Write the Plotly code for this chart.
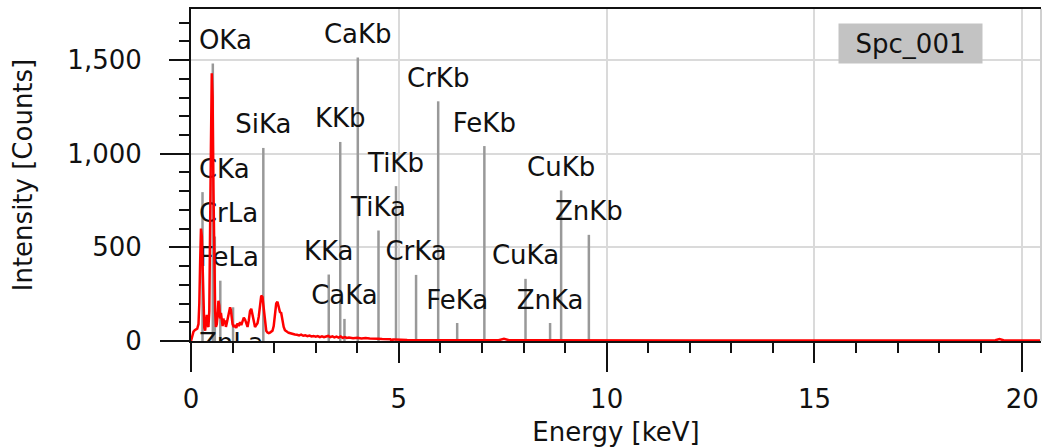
import plotly.graph_objects as go

# ---------------- data ----------------
# spectrum (energy keV, counts)
spec_energy = [0.00, 0.03, 0.06, 0.09, 0.12, 0.15, 0.18, 0.20, 0.22, 0.24, 0.26, 0.28, 0.30, 0.32,
               0.34, 0.36, 0.38, 0.40, 0.42, 0.44, 0.46, 0.48, 0.50, 0.52, 0.54, 0.56, 0.58, 0.60,
               0.62, 0.64, 0.66, 0.68, 0.70, 0.72, 0.74, 0.76, 0.78, 0.80, 0.82, 0.84, 0.86, 0.88,
               0.90, 0.92, 0.94, 0.96, 0.98, 1.00, 1.03, 1.06, 1.09, 1.12, 1.15, 1.18, 1.21, 1.24,
               1.27, 1.30, 1.33, 1.36, 1.39, 1.42, 1.45, 1.48, 1.51, 1.54, 1.57, 1.60, 1.63, 1.66,
               1.69, 1.72, 1.75, 1.78, 1.81, 1.84, 1.87, 1.90, 1.93, 1.96, 1.99, 2.02, 2.05, 2.08,
               2.11, 2.14, 2.17, 2.20, 2.23, 2.26, 2.29, 2.32, 2.35, 2.40, 2.45, 2.50, 2.55, 2.60,
               2.65, 2.70, 2.75, 2.80, 2.85, 2.90, 2.95, 3.00, 3.05, 3.10, 3.15, 3.20, 3.25, 3.30,
               3.35, 3.40, 3.45, 3.50, 3.55, 3.60, 3.65, 3.70, 3.75, 3.80, 3.90, 4.00,
               4.10, 4.20, 4.30, 4.40, 4.50, 4.60, 4.70, 4.80, 4.83, 4.86, 4.90, 5.00, 5.20, 5.60,
               6.00, 6.50, 7.00, 7.40, 7.53, 7.65, 8.00, 9.00, 10.00, 11.00, 12.00, 13.00, 14.00,
               15.00, 16.00, 17.00, 18.00, 19.00, 19.35, 19.45, 19.55, 20.00, 20.45]
spec_counts = [0, 25, 50, 58, 62, 66, 90, 200, 420, 600, 560, 330, 150, 70,
               55, 95, 140, 85, 75, 160, 480, 1050, 1430, 1300, 820, 380, 160, 75,
               90, 140, 215, 190, 120, 150, 100, 80, 120, 90, 110, 75, 95, 120,
               150, 175, 180, 165, 120, 90, 75, 85, 70, 95, 80, 100, 85, 110,
               125, 115, 90, 75, 110, 160, 172, 140, 90, 75, 85, 95, 130, 190,
               242, 235, 170, 90, 55, 45, 42, 45, 48, 55, 80, 150, 200, 210,
               175, 155, 150, 110, 75, 58, 50, 48, 44, 40, 38, 35, 33, 30,
               34, 28, 31, 26, 29, 24, 27, 23, 26, 21, 25, 20, 24, 27,
               21, 25, 19, 23, 18, 24, 17, 21, 16, 18, 15, 17,
               14, 16, 13, 14, 12, 11, 12, 10, -3, 8, 8, 6, 5, 4,
               4, 4, 4, 4, 12, 4, 4, 3, 3, 3, 3, 3, 3,
               3, 3, 3, 3, 3, 4, 10, 4, 3, 3]

# element line markers
line_names = ["CKa", "OKa", "CrLa", "FeLa", "ZnLa", "SiKa", "KKa", "KKb", "CaKa", "CaKb",
              "TiKa", "TiKb", "CrKa", "CrKb", "FeKa", "FeKb", "CuKa", "ZnKa", "CuKb", "ZnKb"]
line_energy = [0.277, 0.525, 0.573, 0.705, 1.012, 1.740, 3.314, 3.590, 3.692, 4.013,
               4.511, 4.932, 5.415, 5.947, 6.404, 7.058, 8.048, 8.639, 8.905, 9.572]
line_height = [795, 1482, 558, 322, 180, 1031, 355, 1063, 118, 1514,
               590, 827, 353, 1280, 96, 1041, 332, 96, 804, 567]

x_ticks = [0, 5, 10, 15, 20]
x_long_ticks = [0, 10, 20]
y_ticks = [0, 500, 1000, 1500]
y_tick_text = ["0", "500", "1,000", "1,500"]
y_long_ticks = [0, 1000]
series_name = "Spc_001"

# ---------------- figure ----------------
FONT = "DejaVu Sans"
FS = 26
XMAX = 20.45
YMAX = 1773
label_offset = 112          # counts between line top and label centre
left_clamp = 0.19           # keV: labels near origin are left-aligned here

fig = go.Figure()

# gray marker lines
lx, ly = [], []
for e, h in zip(line_energy, line_height):
    lx += [e, e, None]
    ly += [0, h, None]
fig.add_trace(go.Scatter(x=lx, y=ly, mode="lines", line=dict(color="#999999", width=2.5),
                         hoverinfo="skip", showlegend=False))

# labels
cx, cy, ct, lx2, ly2, lt = [], [], [], [], [], []
for n, e, h in zip(line_names, line_energy, line_height):
    yy = h + label_offset
    if n == "ZnLa":
        yy = -25
    if e < 1.1:
        lx2.append(left_clamp); ly2.append(yy); lt.append(n)
    else:
        cx.append(e); cy.append(yy); ct.append(n)
fig.add_trace(go.Scatter(x=cx, y=cy, text=ct, mode="text", textposition="middle center",
                         textfont=dict(family=FONT, size=FS, color="#111111"),
                         cliponaxis=True, hoverinfo="skip", showlegend=False))
fig.add_trace(go.Scatter(x=lx2, y=ly2, text=lt, mode="text", textposition="middle right",
                         textfont=dict(family=FONT, size=FS, color="#111111"),
                         marker=dict(size=1), cliponaxis=True, hoverinfo="skip", showlegend=False))

# spectrum
fig.add_trace(go.Scatter(x=spec_energy, y=spec_counts, mode="lines", name=series_name,
                         line=dict(color="#ff0000", width=2.5), cliponaxis=True, showlegend=False))

# dummy trace for overlay axes (long ticks)
fig.add_trace(go.Scatter(x=[0], y=[0], xaxis="x2", yaxis="y2", mode="markers",
                         marker=dict(opacity=0), hoverinfo="skip", showlegend=False))

axis_font = dict(family=FONT, size=FS, color="#111111")
fig.update_layout(
    width=1042, height=448,
    margin=dict(l=191, r=1, t=9, b=107, pad=0),
    plot_bgcolor="white", paper_bgcolor="white",
    font=dict(family=FONT, size=FS, color="#111111"),
    xaxis=dict(range=[0, XMAX], tickvals=x_ticks, ticktext=[str(v) for v in x_ticks],
               ticks="outside", ticklen=20, tickwidth=2, tickcolor="#111111",
               showline=True, linecolor="#111111", linewidth=2, mirror=True,
               showgrid=True, gridcolor="#dadada", gridwidth=2, zeroline=False,
               tickfont=axis_font, ticklabelstandoff=14, automargin=False,
               minor=dict(dtick=1, ticks="outside", ticklen=10, tickwidth=2,
                          tickcolor="#111111", showgrid=False),
               title=dict(text="Energy [keV]", font=axis_font, standoff=10)),
    yaxis=dict(range=[0, YMAX], tickvals=y_ticks, ticktext=y_tick_text,
               ticks="outside", ticklen=20, tickwidth=2, tickcolor="#111111",
               showline=True, linecolor="#111111", linewidth=2,
               showgrid=True, gridcolor="#dadada", gridwidth=2, zeroline=False,
               tickfont=axis_font, ticklabelstandoff=22, automargin=False,
               minor=dict(dtick=100, ticks="outside", ticklen=10, tickwidth=2,
                          tickcolor="#111111", showgrid=False),
               title=dict(text="Intensity [Counts]", font=axis_font, standoff=27)),
    xaxis2=dict(overlaying="x", anchor="y2", range=[0, XMAX], tickvals=x_long_ticks,
                ticks="outside", ticklen=30, tickwidth=2, tickcolor="#111111",
                showticklabels=False, showgrid=False, showline=False, zeroline=False),
    yaxis2=dict(overlaying="y", anchor="x2", range=[0, YMAX], tickvals=y_long_ticks,
                ticks="outside", ticklen=30, tickwidth=2, tickcolor="#111111",
                showticklabels=False, showgrid=False, showline=False, zeroline=False),
    shapes=[dict(type="line", xref="paper", yref="paper", x0=1, x1=1, y0=0, y1=1,
                 line=dict(color="#d0d0d0", width=2))],
    annotations=[dict(text=series_name, xref="paper", yref="paper", x=0.8465, y=0.896,
                      xanchor="center", yanchor="middle", showarrow=False,
                      bgcolor="#c3c3c3", width=141, height=37,
                      font=dict(family=FONT, size=FS, color="#111111"))],
)

fig.write_html("out.html", config={"displayModeBar": False},
               post_script="document.body.style.margin='0';document.body.style.overflow='hidden';")
